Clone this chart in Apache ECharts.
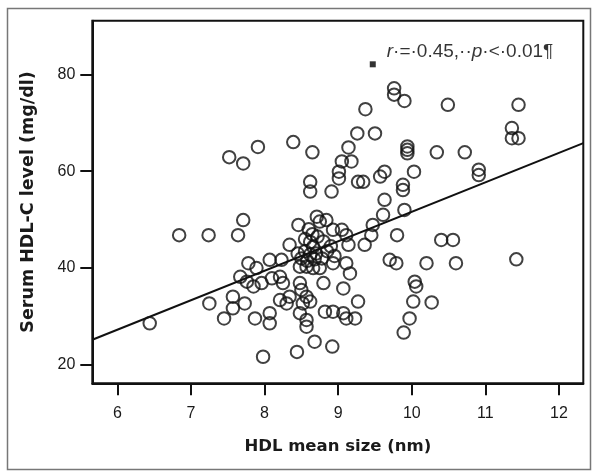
<!DOCTYPE html>
<html>
<head>
<meta charset="utf-8">
<script src="https://cdn.jsdelivr.net/npm/echarts@6/dist/echarts.min.js"></script>
<style>
html,body{margin:0;padding:0;background:#fff;}
#c{width:592px;height:472px;}
</style>
</head>
<body>
<div id="c"></div>
<script>
// HDL mean size (nm)
const sizeNm = [
  7.52, 7.71, 7.91, 8.39, 8.65, 8.62, 8.62,
  7.71, 7.64, 7.24, 6.84, 8.46, 8.71, 8.75, 8.84,
  8.34, 8.62, 8.66, 7.78, 7.89, 8.07, 8.23,
  7.67, 7.76, 7.85, 7.96, 8.10, 8.21, 8.25,
  8.48, 8.57, 8.66, 8.75, 8.48, 8.80,
  7.25, 7.57, 7.73, 7.57, 7.45, 7.87, 8.07, 8.07, 6.44,
  8.21, 8.30, 8.34, 8.57, 8.62, 8.52, 8.48, 8.57, 8.57,
  8.68, 8.44, 7.98, 8.92,
  9.37, 9.90, 9.76, 9.76, 10.49, 11.45,
  9.26, 9.50, 11.36, 11.36, 11.45, 9.14,
  9.94, 9.94, 9.94, 10.34, 10.72, 9.05, 9.18,
  9.01, 9.01, 8.91, 9.27, 9.34, 9.57, 9.63, 10.03,
  9.88, 9.88, 10.91, 10.91, 9.63, 9.90,
  9.61, 9.47, 8.93, 9.05, 9.11,
  9.14, 9.36, 9.45, 9.80, 10.40, 10.56,
  8.93, 9.11, 9.70, 9.79, 10.20, 10.60, 11.42,
  9.16, 9.07, 10.04, 10.06, 10.02, 10.27, 9.97, 9.89,
  8.82, 8.93, 9.07, 9.11, 9.23, 9.27,
  8.55, 8.62, 8.70, 8.78, 8.50, 8.58, 8.68, 8.85, 8.90, 8.80,
  8.72, 8.95, 8.45, 8.65, 8.50, 8.55, 8.60
];
// Serum HDL-C level (mg/dl)
const hdlC = [
  62.9, 61.6, 65.0, 66.0, 63.9, 57.8, 55.8,
  49.9, 46.8, 46.8, 46.8, 48.9, 50.6, 49.6, 49.9,
  44.8, 45.4, 44.4, 41.0, 40.0, 41.7, 41.7,
  38.2, 37.2, 36.2, 36.9, 37.9, 38.2, 36.9,
  40.3, 40.3, 40.0, 40.0, 36.9, 36.9,
  32.7, 34.1, 32.7, 31.7, 29.6, 29.6, 30.7, 28.6, 28.6,
  33.4, 32.7, 34.1, 34.1, 33.1, 32.7, 30.7, 29.3, 27.9,
  24.8, 22.7, 21.7, 23.8,
  72.8, 74.5, 77.1, 75.8, 73.7, 73.7,
  67.8, 67.8, 68.9, 66.8, 66.8, 64.9,
  65.1, 64.4, 63.7, 63.9, 63.9, 62.0, 62.0,
  59.9, 58.5, 55.8, 57.8, 57.8, 58.9, 59.9, 59.9,
  57.2, 56.1, 60.3, 59.2, 54.1, 52.0,
  51.0, 48.9, 47.9, 47.9, 46.8,
  44.8, 44.8, 46.8, 46.8, 45.8, 45.8,
  41.0, 41.0, 41.7, 41.0, 41.0, 41.0, 41.8,
  38.9, 35.8, 37.2, 36.2, 33.1, 32.9, 29.6, 26.7,
  31.0, 31.0, 30.7, 29.6, 29.6, 33.1,
  43.5, 42.8, 43.0, 42.0, 42.0, 41.5, 41.8, 43.5, 44.5, 45.5,
  46.5, 42.5, 43.0, 47.0, 35.5, 46.0, 48.0
];
// fitted regression line end points (x, y)
const fitX = [5.66, 12.33];
const fitY = [25.2, 65.8];
// annotation marker
const noteX = [9.47];
const noteY = [82.06];
const xTicks = [6, 7, 8, 9, 10, 11, 12];
const yTicks = [20, 40, 60, 80];

const chart = echarts.init(document.getElementById('c'), null, {renderer: 'canvas'});

const points = sizeNm.map((x, i) => [x, hdlC[i]]);
const fit = fitX.map((x, i) => [x, fitY[i]]);
const note = noteX.map((x, i) => [x, noteY[i]]);

const G = {left: 92.3, right: 8.7, top: 20.7, bottom: 88.7};
const tickFont = {fontFamily: 'Liberation Sans', fontSize: 16, color: '#1a1a1a'};

chart.setOption({
  animation: false,
  backgroundColor: '#fff',
  graphic: [{
    type: 'rect',
    shape: {x: 7.5, y: 8.5, width: 583, height: 461},
    style: {fill: 'none', stroke: '#777', lineWidth: 1.5},
    silent: true, z: 0
  }],
  grid: {
    left: G.left, right: G.right, top: G.top, bottom: G.bottom,
    show: true, borderColor: '#111', borderWidth: 2, backgroundColor: '#fff'
  },
  xAxis: {
    type: 'value', min: 5.66, max: 12.33,
    name: 'HDL mean size (nm)', nameLocation: 'middle', nameGap: 55,
    nameTextStyle: {fontFamily: 'DejaVu Sans', fontWeight: 'bold', fontSize: 16.5, color: '#1a1a1a'},
    axisLine: {show: true, onZero: false, lineStyle: {color: '#111', width: 2}},
    axisTick: {show: true, inside: false, length: 12, lineStyle: {color: '#111', width: 2}, customValues: xTicks},
    axisLabel: Object.assign({margin: 22, customValues: xTicks}, tickFont),
    splitLine: {show: false}
  },
  yAxis: {
    type: 'value', min: 16.22, max: 91.06,
    name: 'Serum HDL-C level (mg/dl)', nameLocation: 'middle', nameGap: 55, nameRotate: 90,
    nameTextStyle: {fontFamily: 'DejaVu Sans', fontWeight: 'bold', fontSize: 17.5, color: '#1a1a1a'},
    axisLine: {show: true, onZero: false, lineStyle: {color: '#111', width: 2}},
    axisTick: {show: true, inside: false, length: 12, lineStyle: {color: '#111', width: 2}, customValues: yTicks},
    axisLabel: Object.assign({margin: 17, customValues: yTicks}, tickFont),
    splitLine: {show: false}
  },
  series: [
    {
      type: 'scatter',
      data: points,
      symbol: 'circle',
      symbolSize: 12.5,
      itemStyle: {color: 'rgba(0,0,0,0)', borderColor: '#111', borderWidth: 2},
      z: 3
    },
    {
      type: 'line',
      data: fit,
      symbol: 'none',
      lineStyle: {color: '#111', width: 2},
      z: 4
    },
    {
      type: 'scatter',
      data: note,
      symbol: 'rect',
      symbolSize: 6,
      itemStyle: {color: '#000'},
      label: {
        show: true,
        position: 'right',
        distance: 11,
        offset: [0, -13],
        formatter: '{i|r}·=·0.45,··{i|p}·<·0.01¶',
        fontFamily: 'Liberation Sans',
        fontSize: 19,
        color: '#000',
        rich: {
          i: {fontStyle: 'italic', fontFamily: 'Liberation Sans', fontSize: 19, color: '#000'}
        }
      },
      z: 5
    }
  ]
});
</script>
</body>
</html>
